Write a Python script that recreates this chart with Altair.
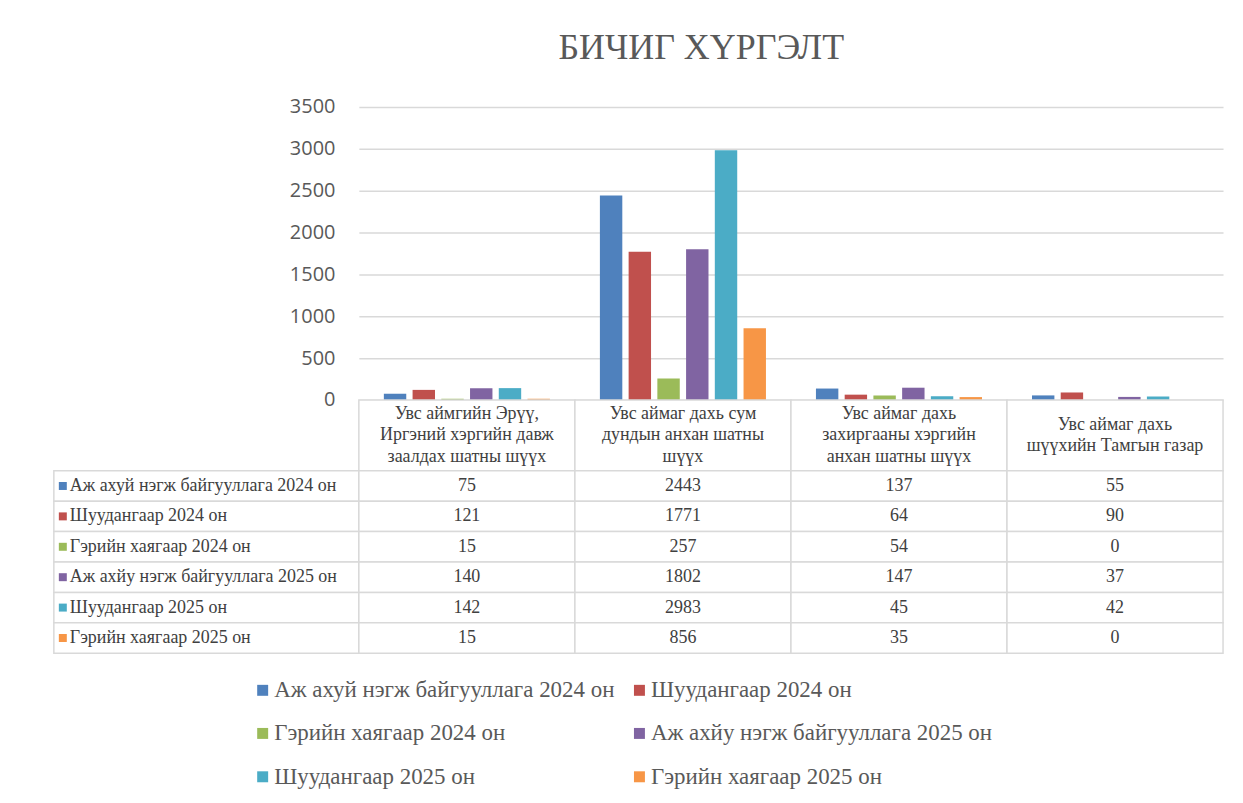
import altair as alt
import pandas as pd

# ---- data -------------------------------------------------------------
categories = [
    "Увс аймгийн Эрүү, Иргэний хэргийн давж заалдах шатны шүүх",
    "Увс аймаг дахь сум дундын анхан шатны шүүх",
    "Увс аймаг дахь захиргааны хэргийн анхан шатны шүүх",
    "Увс аймаг дахь шүүхийн Тамгын газар",
]
header_lines = [
    ["Увс аймгийн Эрүү,", "Иргэний хэргийн давж", "заалдах шатны шүүх"],
    ["Увс аймаг дахь сум", "дундын анхан шатны", "шүүх"],
    ["Увс аймаг дахь", "захиргааны хэргийн", "анхан шатны шүүх"],
    ["Увс аймаг дахь", "шүүхийн Тамгын газар"],
]
series = [
    "Аж ахуй нэгж байгууллага 2024 он",
    "Шуудангаар 2024 он",
    "Гэрийн хаягаар 2024 он",
    "Аж ахйу нэгж байгууллага 2025 он",
    "Шуудангаар 2025 он",
    "Гэрийн хаягаар 2025 он",
]
s1 = [75, 2443, 137, 55]
s2 = [121, 1771, 64, 90]
s3 = [15, 257, 54, 0]
s4 = [140, 1802, 147, 37]
s5 = [142, 2983, 45, 42]
s6 = [15, 856, 35, 0]
colors = ["#4F81BD", "#C0504D", "#9BBB59", "#8064A2", "#4BACC6", "#F79646"]
y_ticks = [0, 500, 1000, 1500, 2000, 2500, 3000, 3500]
title_text = "БИЧИГ ХҮРГЭЛТ"

rows = []
for s, vals in zip(series, [s1, s2, s3, s4, s5, s6]):
    for c, v in zip(categories, vals):
        rows.append({"category": c, "series": s, "value": v})
df = pd.DataFrame(rows)
cat_df = pd.DataFrame({"category": categories})
ser_df = pd.DataFrame({"series": series})

hrows = []
for c, lines in zip(categories, header_lines):
    n = len(lines)
    for i, ln in enumerate(lines):
        hrows.append({"category": c, "line": ln, "pos": (n - 1) / 2 - i})
hdf = pd.DataFrame(hrows)

SERIF = "Liberation Serif"
SANS = "Open Sans"
GRID = "#d9d9d9"
TXT = "#404040"
PW = 867  # plot width
LW = 306  # label column width
PH = 294  # plot height
HH = 71   # header height
TH = 183  # table body height
LINE_H = 21.5

xcat = alt.X("category:N", sort=categories,
             scale=alt.Scale(domain=categories, paddingInner=0, paddingOuter=0),
             axis=None)
yser = alt.Y("series:N", sort=series,
             scale=alt.Scale(domain=series, paddingInner=0, paddingOuter=0),
             axis=None)

# ---- bar chart -------------------------------------------------------
bars = alt.Chart(df).mark_bar().encode(
    x=xcat,
    xOffset=alt.XOffset("series:N", sort=series,
                        scale=alt.Scale(domain=series, paddingInner=0.22, paddingOuter=0.87)),
    y=alt.Y("value:Q",
            scale=alt.Scale(domain=[0, 3500], nice=False),
            axis=alt.Axis(values=y_ticks, format="d", title=None, domain=False,
                          ticks=False, tickSize=0,
                          labelPadding=24, labelFont=SANS, labelFontSize=20,
                          labelColor="#595959", gridColor=GRID, gridWidth=1.5)),
    color=alt.Color("series:N", sort=series,
                    scale=alt.Scale(domain=series, range=colors),
                    legend=alt.Legend(orient="none", legendX=-108, legendY=573.5,
                                      direction="horizontal",
                                      columns=2, title=None, symbolType="square",
                                      symbolSize=121, symbolStrokeWidth=0,
                                      labelFont=SERIF, labelFontSize=23,
                                      labelColor="#595959", labelLimit=0,
                                      labelOffset=0, rowPadding=19.5,
                                      columnPadding=13, padding=0)),
).properties(width=PW, height=PH)

spacer_top = alt.Chart(cat_df).mark_point(opacity=0).encode(
    x=alt.X("category:N", axis=None)
).properties(width=LW, height=PH)

spacer_mid = alt.Chart(cat_df).mark_point(opacity=0).encode(
    x=alt.X("category:N", axis=None)
).properties(width=LW, height=HH)

# ---- table header ----------------------------------------------------
half = HH / 2 / LINE_H
header = alt.layer(
    alt.Chart(cat_df).mark_rect(fill="white", stroke=GRID, strokeWidth=1.5).encode(x=xcat),
    alt.Chart(hdf).mark_text(font=SERIF, fontSize=18, color=TXT, baseline="middle").encode(
        x=xcat,
        y=alt.Y("pos:Q", scale=alt.Scale(domain=[-half, half], nice=False, zero=False),
                axis=None),
        text="line:N"),
).properties(width=PW, height=HH)

# ---- table body: values ---------------------------------------------
values_tbl = alt.layer(
    alt.Chart(df).mark_rect(fill="white", stroke=GRID, strokeWidth=1.5).encode(x=xcat, y=yser),
    alt.Chart(df).mark_text(font=SERIF, fontSize=18, color=TXT, baseline="middle").encode(
        x=xcat, y=yser, text="value:Q"),
).properties(width=PW, height=TH)

# ---- table body: series labels --------------------------------------
labels_tbl = alt.layer(
    alt.Chart(ser_df).mark_rect(fill="white", stroke=GRID, strokeWidth=1.5).encode(y=yser),
    alt.Chart(ser_df).mark_square(size=64, opacity=1).encode(
        x=alt.value(9), y=yser,
        color=alt.Color("series:N", sort=series,
                        scale=alt.Scale(domain=series, range=colors), legend=None)),
    alt.Chart(ser_df).mark_text(font=SERIF, fontSize=18, color=TXT, align="left",
                                baseline="middle").encode(
        x=alt.value(16), y=yser, text="series:N"),
).properties(width=LW, height=TH)

chart = alt.concat(
    spacer_top, bars, spacer_mid, header, labels_tbl, values_tbl,
    columns=2, spacing=0,
).properties(
    align="each", bounds="flush",
    padding={"left": 44, "top": 20, "right": 10, "bottom": 10},
    title=alt.TitleParams(title_text, font=SERIF, fontSize=36, fontWeight="normal",
                          color="#595959", anchor="middle", dx=63, offset=30),
).resolve_scale(color="independent", x="independent", y="independent").configure_view(
    stroke="transparent"
)

chart.save("out.html", embed_options={"renderer": "svg", "actions": False})
